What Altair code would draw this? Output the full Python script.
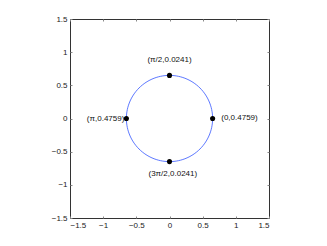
import altair as alt
import pandas as pd
import numpy as np

radius = 0.65
angles_deg = list(range(0, 361, 3))
pt_x = [0.65, 0.0, -0.65, 0.0]
pt_y = [0.0, 0.65, 0.0, -0.65]
label_text = ["(0,0.4759)", "(π/2,0.0241)", "(π,0.4759)", "(3π/2,0.0241)"]
label_x = [0.78, 0.0, -0.68, 0.05]
label_y = [0.01, 0.88, 0.0, -0.83]
label_align = ["left", "center", "right", "center"]
ticks = [-1.5, -1, -0.5, 0, 0.5, 1, 1.5]

th = np.radians(angles_deg)
circ = pd.DataFrame({"x": radius * np.cos(th), "y": radius * np.sin(th), "o": range(len(th))})
pts = pd.DataFrame({"x": pt_x, "y": pt_y})
labs = pd.DataFrame({"x": label_x, "y": label_y, "t": label_text, "a": label_align})

FONT = "Liberation Sans"
dom = [-1.5, 1.5]
lab_expr = "datum.value < 0 ? '\u2212' + format(-datum.value, '') : format(datum.value, '')"

def ax(orient, labels=True):
    return alt.Axis(orient=orient, values=ticks, grid=False, domain=False,
                    tickSize=2, offset=-2, tickColor="#888888", labels=labels,
                    labelExpr=lab_expr, labelFont=FONT, labelFontSize=8,
                    labelColor="#222222", labelPadding=3, title=None)

xs = alt.Scale(domain=dom, nice=False, zero=False)
ys = alt.Scale(domain=dom, nice=False, zero=False)

line = alt.Chart(circ).mark_line(color="#3355ff", strokeWidth=0.8).encode(
    x=alt.X("x:Q", scale=xs, axis=ax("bottom")),
    y=alt.Y("y:Q", scale=ys, axis=ax("left")),
    order="o:Q",
)
dots = alt.Chart(pts).mark_circle(color="black", size=26, opacity=1).encode(
    x=alt.X("x:Q", scale=xs, axis=ax("top", False)),
    y=alt.Y("y:Q", scale=ys, axis=ax("right", False)),
)
texts = []
for al in ["left", "center", "right"]:
    texts.append(
        alt.Chart(labs).transform_filter(alt.datum.a == al)
        .mark_text(align=al, baseline="middle", font=FONT, fontSize=8, color="#111111")
        .encode(x=alt.X("x:Q", scale=xs, axis=None), y=alt.Y("y:Q", scale=ys, axis=None), text="t:N")
    )

chart = alt.layer(line, dots, *texts).resolve_axis(x="independent", y="independent").properties(
    width=199, height=199,
    padding={"left": 62, "top": 11, "right": 50, "bottom": 20},
    autosize=alt.AutoSizeParams(type="none"),
    background="white",
).configure_view(stroke="#333333", strokeWidth=1)

chart.save("out.html", embed_options={"renderer": "svg", "actions": False})
